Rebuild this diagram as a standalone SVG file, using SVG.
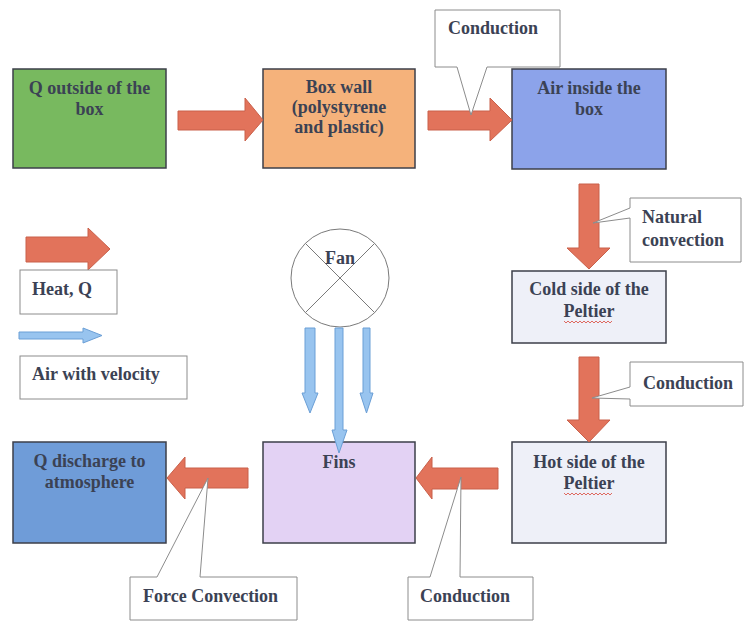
<svg xmlns="http://www.w3.org/2000/svg" width="745" height="622" viewBox="0 0 745 622">
<style>
text{font-family:"Liberation Serif","Times New Roman",serif;font-weight:bold;font-size:18px;fill:#3b4254}
.c{text-anchor:middle}
.box{stroke:#3c3f4a;stroke-width:1.5}
.heat{fill:#e2735b;stroke:#c9604a;stroke-width:1}
.air{fill:#98c4ef;stroke:#6b9fd6;stroke-width:1}
.call{fill:#fff;stroke:#8c8c8c;stroke-width:1}
.wavy{fill:none;stroke:#d9473a;stroke-width:0.8}
</style>
<rect width="745" height="622" fill="#fff"/>
<g id="q-outside"><rect class="box" x="13" y="69" width="153" height="99" fill="#78b95f"/><text class="c" x="89.5" y="94" fill="#2e3d33">Q outside of the</text><text class="c" x="89.5" y="115">box</text></g>
<g id="box-wall"><rect class="box" x="263" y="69" width="152" height="99" fill="#f5b27b"/><text class="c" x="339" y="93">Box wall</text><text class="c" x="339" y="113">(polystyrene</text><text class="c" x="339" y="133">and plastic)</text></g>
<g id="air-inside"><rect class="box" x="512" y="69" width="154" height="100" fill="#8ca3ea"/><text class="c" x="589" y="94">Air inside the</text><text class="c" x="589" y="115">box</text></g>
<g id="cold-side"><rect class="box" x="512" y="271" width="154" height="72" fill="#eef0f8"/><text class="c" x="589" y="295">Cold side of the</text><text class="c" x="589" y="317">Peltier</text><path class="wavy" d="M564,321 l2,2 l2,-2 l2,2 l2,-2 l2,2 l2,-2 l2,2 l2,-2 l2,2 l2,-2 l2,2 l2,-2 l2,2 l2,-2 l2,2 l2,-2 l2,2 l2,-2 l2,2 l2,-2 l2,2 l2,-2 l2,2 l2,-2"/></g>
<g id="hot-side"><rect class="box" x="512" y="442" width="154" height="101" fill="#eef0f8"/><text class="c" x="589" y="468">Hot side of the</text><text class="c" x="589" y="489">Peltier</text><path class="wavy" d="M564,493 l2,2 l2,-2 l2,2 l2,-2 l2,2 l2,-2 l2,2 l2,-2 l2,2 l2,-2 l2,2 l2,-2 l2,2 l2,-2 l2,2 l2,-2 l2,2 l2,-2 l2,2 l2,-2 l2,2 l2,-2 l2,2 l2,-2"/></g>
<g id="fins"><rect class="box" x="263" y="442" width="152" height="101" fill="#e3d2f4"/><text class="c" x="339" y="468">Fins</text></g>
<g id="q-discharge"><rect class="box" x="13" y="442" width="153" height="101" fill="#6f9cd8"/><text class="c" x="89.5" y="467">Q discharge to</text><text class="c" x="89.5" y="488">atmosphere</text></g>
<g id="fan"><circle cx="340" cy="278" r="49" fill="#fff" stroke="#7a7a7a" stroke-width="1"/><path d="M305.4,243.4 L374.6,312.6 M374.6,243.4 L305.4,312.6" stroke="#7a7a7a" stroke-width="1"/><text class="c" x="340" y="264">Fan</text></g>
<g id="legend"><path class="heat" d="M26,237 H88 V228 L110,249 L88,270 V262 H26 Z"/><rect class="call" x="20" y="270" width="97" height="44" stroke="#555"/><text x="32" y="295">Heat, Q</text><path class="air" d="M19,332 H83 V328 L102,335.5 L83,343 V339 H19 Z"/><rect class="call" x="20" y="356" width="167" height="43" stroke="#555"/><text x="32" y="380">Air with velocity</text></g>
<g id="connectors">
<path class="heat" d="M178,111 H245 V98 L263,120 L245,141 V130 H178 Z"/>
<path class="heat" d="M428,111 H490 V98 L512,120 L490,141 V130 H428 Z"/>
<path class="heat" d="M579,184 V248 H567 L589,269 L610,248 H599 V184 Z"/>
<path class="heat" d="M579,357 V420 H567 L589,442 L610,420 H599 V357 Z"/>
<path class="heat" d="M498,468 H432 V457 L416,478 L432,499 V489 H498 Z"/>
<path class="heat" d="M248,468 H185 V457 L167,478 L185,499 V488 H248 Z"/>
<path class="air" d="M305,328 V393 H302 L310,413 L318,393 H315 V328 Z"/>
<path class="air" d="M335,328 V430 H332 L339,453 L347,430 H343 V328 Z"/>
<path class="air" d="M363,328 V393 H360 L366.5,413 L373,393 H370 V328 Z"/>
</g>
<g id="callout-conduction-top"><path class="call" d="M435,10 H560 V67 H487 L471,115 L457,67 H435 Z"/><text x="448" y="34">Conduction</text></g>
<g id="callout-natural"><path class="call" d="M630,198 H741 V262 H630 V218 L593,223 L630,208 Z"/><text x="642" y="223">Natural</text><text x="642" y="246">convection</text></g>
<g id="callout-conduction-right"><path class="call" d="M630,362 H743 V406 H630 V399 L592,398 L630,387 Z"/><text x="643" y="389">Conduction</text></g>
<g id="callout-conduction-bottom"><path class="call" d="M408,577 H430 L461,477 L460,577 H533 V620 H408 Z"/><text x="420" y="602">Conduction</text></g>
<g id="callout-force"><path class="call" d="M130,577 H157 L208,478 L200,577 H297 V620 H130 Z"/><text x="143" y="602">Force Convection</text></g>
</svg>
